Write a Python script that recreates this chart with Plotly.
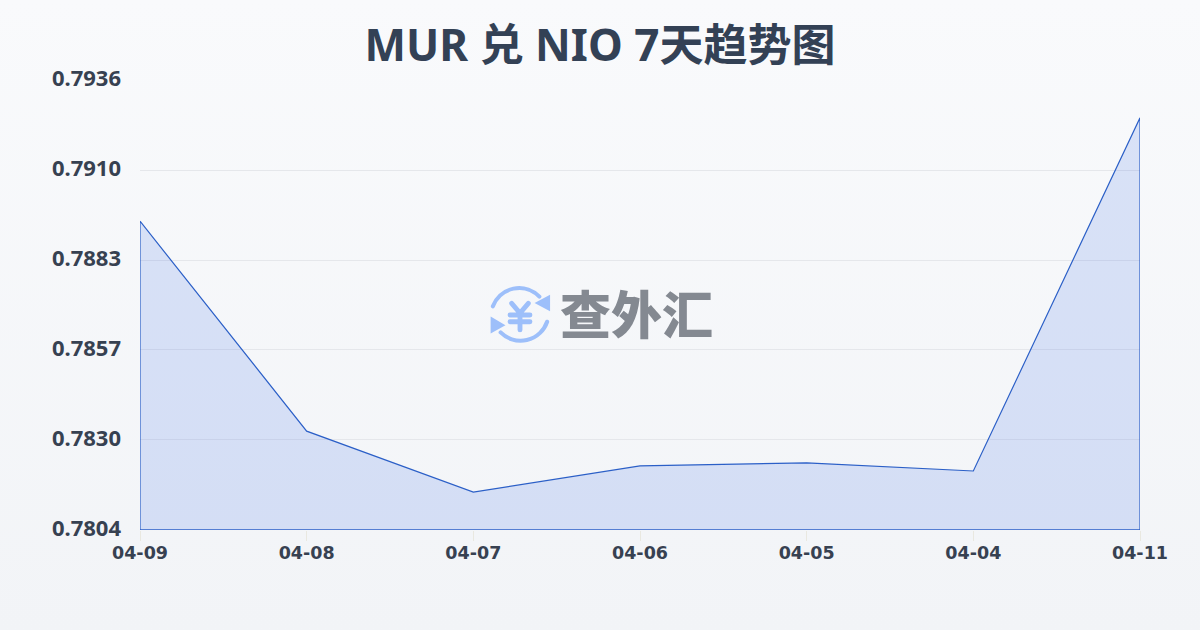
import base64
import plotly.graph_objects as go

dates = ["04-09", "04-08", "04-07", "04-06", "04-05", "04-04", "04-11"]
rates = [0.78946, 0.7833, 0.78151, 0.78228, 0.78237, 0.78213, 0.79249]
y_ticks = [0.7804, 0.78304, 0.78568, 0.78832, 0.79096, 0.7936]
y_labels = ["0.7804", "0.7830", "0.7857", "0.7883", "0.7910", "0.7936"]
title = "MUR 兑 NIO 7天趋势图"
brand = "查外汇"

INK = "#374151"
LINE = "#2b5fc7"
FILL = "rgba(37,95,225,0.15)"
FONT = "'Noto Sans', 'Noto Sans CJK SC', sans-serif"
X_FONT = "'DejaVu Sans', sans-serif"

bg_svg = """<svg xmlns='http://www.w3.org/2000/svg' width='1200' height='630'>
<defs><linearGradient id='g' x1='0' y1='0' x2='0' y2='1'>
<stop offset='0' stop-color='#f9fafc'/><stop offset='1' stop-color='#f2f4f7'/></linearGradient></defs>
<rect width='1200' height='630' fill='url(#g)'/></svg>"""

icon_svg = """<svg xmlns='http://www.w3.org/2000/svg' width='64' height='64' viewBox='0 0 64 64'>
<g fill='none' stroke='#9dbffa' stroke-width='4.2' stroke-linecap='round' stroke-linejoin='round'>
<path d='M4 23 A29 29 0 0 1 52 13'/><path d='M60 39 A29 29 0 0 1 12 50'/>
<path stroke-width='5' d='M23.4 20 L32 30 L40.6 20 M32 30 V47.4 M21.7 32 H42.3 M21.7 39 H42.3'/></g>
<g fill='#9dbffa'><path d='M63 11 L63 28 L47 19.5 Z'/><path d='M1.7 33.6 L1.7 51 L17 42.5 Z'/></g></svg>"""


def uri(svg):
    return "data:image/svg+xml;base64," + base64.b64encode(svg.encode()).decode()


fig = go.Figure()
fig.add_trace(go.Scatter(
    x=dates + [dates[-1], dates[0], dates[0]],
    y=rates + [y_ticks[0], y_ticks[0], rates[0]],
    mode="lines",
    fill="toself",
    fillcolor=FILL,
    line=dict(color=LINE, width=1.2),
    cliponaxis=False,
    hoverinfo="skip",
    showlegend=False,
))

fig.update_layout(
    width=1200,
    height=630,
    margin=dict(l=140, r=60, t=80, b=100),
    paper_bgcolor="rgba(0,0,0,0)",
    plot_bgcolor="rgba(0,0,0,0)",
    font=dict(family=FONT, color=INK),
    title=dict(
        text=title,
        x=0.5, xanchor="center", xref="container",
        y=1 - 46 / 630, yanchor="middle", yref="container",
        font=dict(size=44, color="#334155", weight="bold"),
    ),
    xaxis=dict(
        type="category",
        categoryorder="array",
        categoryarray=dates,
        range=[0, len(dates) - 1],
        showgrid=False,
        zeroline=False,
        showline=False,
        ticks="outside",
        ticklen=10,
        tickwidth=1,
        tickcolor="#e9e8e0",
        ticklabelstandoff=-3,
        tickfont=dict(size=17.5, color=INK, weight="bold", family=X_FONT),
        tickangle=0,
    ),
    yaxis=dict(
        range=[y_ticks[0] - 0.000001, y_ticks[-1] + 0.000001],
        tickmode="array",
        tickvals=y_ticks,
        ticktext=y_labels,
        showgrid=True,
        gridcolor="#e5e7eb",
        gridwidth=1,
        zeroline=False,
        showline=False,
        ticks="",
        ticklabelstandoff=18,
        ticklabelshift=-2,
        tickfont=dict(size=22, color=INK, weight="bold"),
    ),
    images=[
        dict(source=uri(bg_svg), xref="paper", yref="paper", x=-140 / 1000, y=1 + 80 / 450,
             sizex=1.2, sizey=1.4, sizing="stretch", xanchor="left", yanchor="top", layer="below"),
        dict(source=uri(icon_svg), xref="paper", yref="paper", x=(489 - 140) / 1000, y=(530 - 284) / 450,
             sizex=62 / 1000, sizey=62 / 450, sizing="stretch", xanchor="left", yanchor="top", layer="above"),
    ],
    annotations=[
        dict(text=brand, xref="paper", yref="paper", x=(636 - 140) / 1000, y=(530 - 312) / 450,
             xanchor="center", yanchor="middle", showarrow=False,
             font=dict(size=51, color="#848991", family="'Noto Sans CJK SC', sans-serif", weight=900)),
    ],
)

fig.write_html(
    "out.html",
    config={"displayModeBar": False},
    post_script="document.documentElement.style.overflow='hidden';document.body.style.margin='0';window.dispatchEvent(new Event('resize'));",
)
